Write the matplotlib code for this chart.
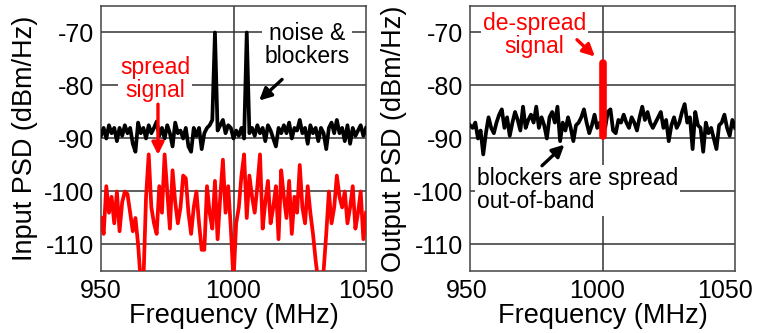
import matplotlib
matplotlib.use("Agg")
import matplotlib.pyplot as plt
import matplotlib.transforms as mtransforms
import numpy as np

plt.rcParams['font.family'] = ['Liberation Sans', 'DejaVu Sans']
plt.rcParams['axes.unicode_minus'] = False

# ---------------- data ----------------
freq = np.arange(950, 1051, 1.0)  # MHz

input_noise_blockers = [
    -89.5, -88, -90, -87.5, -89, -88, -90.5, -88, -89.5, -87.5,
    -89, -88, -91, -92.5, -87, -89, -88, -90, -87.5, -89,
    -88, -86.8, -89.5, -88, -90, -87.5, -89, -91.5, -87, -89,
    -88.5, -90, -88, -91.5, -92.5, -88, -89.5, -88, -92, -89,
    -88, -87.5, -86.5, -70, -88.5, -87.5, -86.5, -89, -87.5, -88,
    -90, -88.5, -89.5, -88, -90, -70, -89, -88, -89.5, -87.5,
    -89, -88, -90.5, -87.5, -88.5, -90, -91.5, -88, -89, -87.5,
    -89, -87, -90, -88, -88.5, -86.5, -89, -88, -91, -87.5,
    -89, -88, -90.5, -88, -89, -92, -88, -87, -89, -86.5,
    -89, -88, -90.5, -87.5, -91, -88, -89.5, -88.5, -87.5, -89.5,
    -88,
]

input_spread_signal = [
    -105, -108, -99, -104, -101, -106, -100, -107.5, -102, -100,
    -100.5, -104, -107.5, -105, -110, -117, -117, -101, -93, -103,
    -106, -108, -99, -104, -93, -100, -107, -96, -102, -106,
    -103, -97, -97.5, -104, -108, -103, -100, -106, -111, -111,
    -99, -104, -107, -98, -109, -101, -94, -104, -99, -107,
    -117, -106, -103, -97, -93, -105, -97, -101, -104, -99,
    -93, -107, -102, -98, -106, -103, -99, -109, -96, -101,
    -105, -98, -108, -101, -104, -95, -103, -106, -99, -104,
    -108, -113, -117, -117, -115, -108, -100, -106, -103, -97,
    -101, -103, -100, -106, -103, -99, -107, -104, -100, -109,
    -104,
]

output_noise = [
    -87.5, -88, -87, -90, -88.5, -93, -89, -86, -88, -89,
    -87, -85.5, -84.5, -88, -86, -89.5, -87, -85, -86.5, -88.5,
    -84, -88, -86.5, -85.5, -87, -84, -88, -86, -87.5, -90,
    -86, -85, -87, -84, -90.5, -87, -88.5, -86, -88, -90.5,
    -87.5, -87, -86, -84.5, -87, -89, -87.5, -85.5, -88, -87,
    -89, -88, -85, -84.5, -88.5, -89, -86.5, -87, -85.5, -87,
    -88, -86, -87, -88.5, -86, -84, -86.5, -85, -87, -88,
    -87, -86, -85, -88, -86.5, -90.5, -87.5, -86, -88, -87,
    -85, -83.5, -87, -86, -92, -85, -87.5, -88, -92.5, -87,
    -89, -88, -90, -92, -87.5, -87, -85.5, -88, -89.5, -86.5,
    -88,
]

despread_freq = [1000, 1000]
despread_level = [-89.5, -75.7]

x_ticks = [950, 1000, 1050]
y_ticks = [-70, -80, -90, -100, -110]

# ---------------- figure ----------------
W, H = 757, 333
fig = plt.figure(figsize=(W / 100, H / 100), dpi=100)

ax1 = fig.add_axes([101 / W, 62 / H, 265 / W, 265 / H])
ax2 = fig.add_axes([470 / W, 62 / H, 265 / W, 265 / H])

grid_c = '#333333'
for ax in (ax1, ax2):
    ax.set_xlim(950, 1050)
    ax.set_ylim(-115, -65)
    ax.set_xticks(x_ticks)
    ax.set_yticks(y_ticks)
    ax.tick_params(length=0, labelsize=18, pad=5)
    ax.tick_params(axis='x', pad=6)
    for yv in y_ticks:
        ax.axhline(yv, color=grid_c, lw=1.1, zorder=1)
    ax.axvline(1000, color=grid_c, lw=1.1, zorder=1)
    for s in ax.spines.values():
        s.set_color('#444444')
        s.set_linewidth(1.1)
    ax.set_xlabel('Frequency (MHz)', fontsize=19.5, labelpad=0)

ax1.set_ylabel('Input PSD (dBm/Hz)', fontsize=19.5, labelpad=4)
ax2.set_ylabel('Output PSD (dBm/Hz)', fontsize=19.5, labelpad=4)

# shift right-panel x tick labels slightly left so 1050 fits like the reference
shifts = [-3, -5, -10]
for lab, dx in zip(ax2.get_xticklabels(), shifts):
    lab.set_transform(lab.get_transform() +
                      mtransforms.ScaledTranslation(dx / 100, 0, fig.dpi_scale_trans))

# left panel traces
ax1.plot(freq, input_spread_signal, color='#ff0000', lw=2.7, zorder=3,
         solid_joinstyle='round')
ax1.plot(freq, input_noise_blockers, color='black', lw=2.7, zorder=4,
         solid_joinstyle='round')

# right panel traces
ax2.plot(freq, output_noise, color='black', lw=2.7, zorder=3,
         solid_joinstyle='round')
ax2.plot(despread_freq, despread_level, color='#ff0000', lw=5.5, zorder=4,
         solid_capstyle='round')

box = dict(facecolor='white', edgecolor='none', pad=1.5)
ann_fs = 16.5

ax1.text(1027.7, -72.3, 'noise &\nblockers', ha='center', va='center',
         fontsize=ann_fs, linespacing=1.0, bbox=box, zorder=5)
ax1.annotate('', xy=(1008.9, -83.2), xytext=(1019.1, -78.5),
             arrowprops=dict(arrowstyle='-|>', color='black', lw=2.4,
                             mutation_scale=18), zorder=5)

ax1.text(970.4, -78.8, 'spread\nsignal', ha='center', va='center',
         fontsize=ann_fs, linespacing=1.0, color='#ff0000', bbox=box, zorder=5)
ax1.annotate('', xy=(971.5, -93.6), xytext=(971.5, -83.0),
             arrowprops=dict(arrowstyle='-|>', color='#ff0000', lw=2.4,
                             mutation_scale=18), zorder=5)

ax2.text(974.4, -70.4, 'de-spread\nsignal', ha='center', va='center',
         fontsize=ann_fs, linespacing=1.0, color='#ff0000', bbox=box, zorder=5)
ax2.annotate('', xy=(997.9, -74.9), xytext=(989.6, -71.0),
             arrowprops=dict(arrowstyle='-|>', color='#ff0000', lw=2.4,
                             mutation_scale=18), zorder=5)

ax2.text(952.6, -99.8, 'blockers are spread\nout-of-band', ha='left', va='center',
         fontsize=ann_fs, linespacing=1.0, color='black', bbox=box, zorder=5)
ax2.annotate('', xy=(986.4, -90.8), xytext=(976.4, -95.5),
             arrowprops=dict(arrowstyle='-|>', color='black', lw=2.4,
                             mutation_scale=18), zorder=5)

fig.savefig('out.png', dpi=100)
